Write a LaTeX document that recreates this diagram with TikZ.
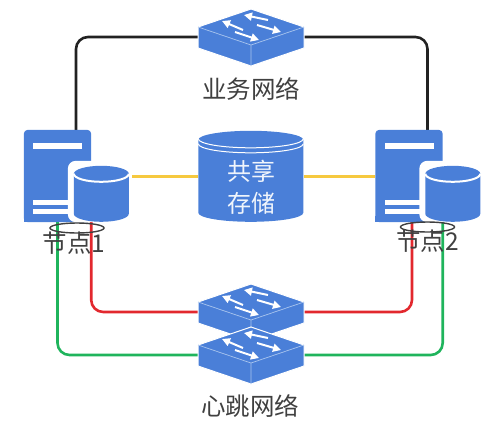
\documentclass[tikz,border=0pt]{standalone}
\usepackage{fontspec}
\setmainfont{Noto Sans CJK SC}
\usetikzlibrary{shapes.geometric, positioning, arrows.meta, calc}

\definecolor{nodeblue}{HTML}{4A7FD8}
\definecolor{edgeblue}{HTML}{A9C5EE}
\definecolor{labelgray}{HTML}{404040}
\definecolor{linkred}{HTML}{E2282E}
\definecolor{linkgreen}{HTML}{1FB45C}
\definecolor{linkyellow}{HTML}{F6C93F}
\definecolor{linkblack}{HTML}{222222}

\tikzset{
    switchbox/.style={minimum width=106pt, minimum height=58pt, inner sep=0pt},
    serverbox/.style={minimum width=67pt, minimum height=92pt, inner sep=0pt},
    diskbox/.style={minimum width=55pt, minimum height=56pt, inner sep=0pt},
    storebox/.style={minimum width=105pt, minimum height=91pt, inner sep=0pt, align=center,
        text=white!92!nodeblue, font=\fontsize{24pt}{32pt}\selectfont},
    label/.style={text=labelgray, font=\fontsize{24.5pt}{26pt}\selectfont, inner sep=0pt},
    ringbox/.style={draw=labelgray, line width=1.4pt, ellipse, minimum width=54pt, minimum height=10pt, inner sep=0pt},
    link/.style={draw, line width=2.6pt, rounded corners=12pt},
    switchglyph/.pic={
        \fill[nodeblue, draw=white, line width=1pt] (-53,-10) -- (0,-28) -- (53,-10) -- (53,11) -- (0,29) -- (-53,11) -- cycle;
        \draw[edgeblue, line width=.7pt] (-53,-10) -- (0,8) -- (53,-10) (0,8) -- (0,29);
        \foreach \ax/\ay/\bx/\by in {-8/-7/-29/-16, -16/-5/8/3, 17/-17/-7/-22, 6/-12/30/-5}
            \draw[white, line width=2pt, -{Triangle[length=8pt,width=8pt]}] (\ax,\ay) -- (\bx,\by);
    }
}

% server body with its white bars
\newcommand{\serverglyph}[1]{
    \fill[nodeblue, rounded corners=4pt] (#1.south west) -- (#1.north west) -- (#1.north east) -- (#1.south east) -- cycle;
    \fill[nodeblue] ([yshift=6pt]#1.south west) rectangle (#1.south east);
    \fill[white] ($(#1.north west)+(9.5pt,-13pt)$) rectangle ++(49pt,-6pt);
    \fill[white] ($(#1.south west)+(9.5pt,22pt)$) rectangle ++(49pt,-5pt);
    \fill[white] ($(#1.south west)+(9.5pt,13pt)$) rectangle ++(49pt,-5pt);
}
% small disk on a server
\newcommand{\diskglyph}[1]{
    \fill[white, rounded corners=8pt] ($(#1.north west)+(-6pt,5pt)$) rectangle ($(#1.south east)+(0pt,0pt)$);
    \fill[white] ($(#1.north east)+(-20pt,5pt)$) rectangle ($(#1.north east)+(3pt,-20pt)$);
    \fill[nodeblue] (#1.north west) ++(0,-8pt) -- ++(0,-40pt) arc[x radius=27.5pt, y radius=8pt, start angle=180, end angle=360] -- ++(0,40pt) arc[x radius=27.5pt, y radius=8pt, start angle=0, end angle=180] -- cycle;
    \draw[white, line width=2pt] (#1.north west) ++(0,-8pt) arc[x radius=27.5pt, y radius=8pt, start angle=180, end angle=360];
}

\begin{document}
\begin{tikzpicture}[x=1pt, y=-1pt]
\useasboundingbox (0,0) rectangle (500,426);

% Nodes
\node[switchbox] (swtop) at (251,37) {};
\node[switchbox] (swupper) at (251,312) {};
\node[switchbox] (swlower) at (251,355) {};
\node[serverbox] (srvleft) at (57.5,176) {};
\node[serverbox] (srvright) at (409,176) {};
\node[diskbox] (diskleft) at (101.5,194) {};
\node[diskbox] (diskright) at (453,194) {};
\node[storebox] (store) at (251,176.5) {};

% Connections
\draw[link, linkblack] ([xshift=18.5pt]srvleft.north) |- (swtop.west);
\draw[link, linkblack] (swtop.east) -| ([xshift=18.5pt]srvright.north);
\draw[link, linkyellow] (diskleft.east |- store.west) -- (store.west);
\draw[link, linkyellow] (store.east) -- (store.east -| srvright.west);
\draw[link, linkred] (srvleft.south east) |- (swupper.west);
\draw[link, linkred] (swupper.east) -| ([xshift=3pt]srvright.south);
\draw[link, linkgreen] (srvleft.south) |- (swlower.west);
\draw[link, linkgreen] (swlower.east) -| (srvright.south east);

% Shapes
\serverglyph{srvleft}
\serverglyph{srvright}
\diskglyph{diskleft}
\diskglyph{diskright}
\pic at (swtop) {switchglyph};
\pic at (swupper) {switchglyph};
\pic at (swlower) {switchglyph};

% Shared storage
\fill[nodeblue] (store.north west) ++(0,-9pt) -- ++(0,-73pt) arc[x radius=52.5pt, y radius=9pt, start angle=180, end angle=360] -- ++(0,73pt) arc[x radius=52.5pt, y radius=9pt, start angle=0, end angle=180] -- cycle;
\draw[white, line width=1pt] (store.north west) ++(0,-8pt) arc[x radius=52.5pt, y radius=9pt, start angle=180, end angle=360];
\draw[white, line width=1pt] (store.north west) ++(0,-13pt) arc[x radius=52.5pt, y radius=9pt, start angle=180, end angle=360];
\node[storebox] at ($(store)+(0,-11pt)$) {共享\\存储};

% Labels
\node[ringbox] (ringleft) at (77,228) {};
\node[ringbox] (ringright) at (427.5,227) {};
\node[label, below=-2pt of ringleft, xshift=-3pt] (nameleft) {节点1};
\node[label, below=-3pt of ringright] (nameright) {节点2};
\node[label] (nametop) at (251,89) {业务网络};
\node[label] (namebottom) at (250,406) {心跳网络};

\end{tikzpicture}
\end{document}
